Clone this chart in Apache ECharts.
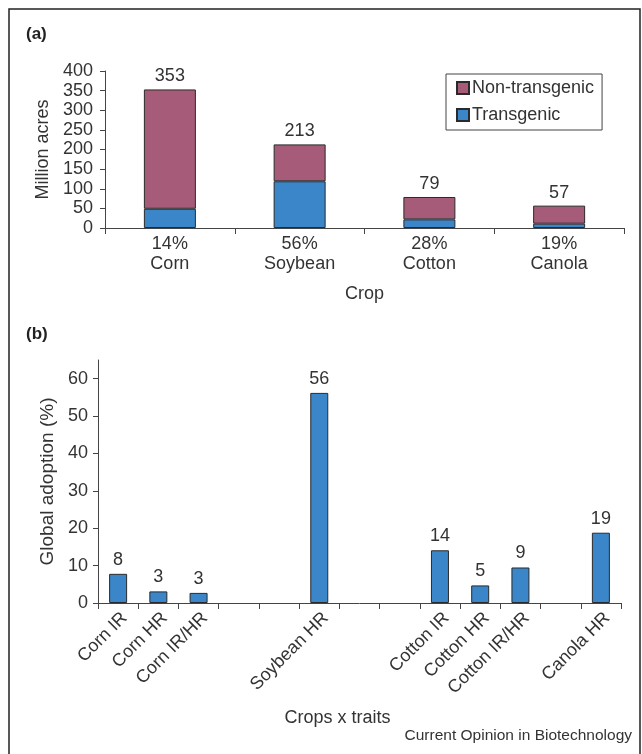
<!DOCTYPE html>
<html>
<head>
<meta charset="utf-8">
<script src="https://cdn.jsdelivr.net/npm/echarts@6/dist/echarts.min.js"></script>
<style>
html,body{margin:0;padding:0;background:#fff;}
#c{width:642px;height:754px;}
</style>
</head>
<body>
<div id="c"></div>
<script>
// Panel (a)
const crops = ['Corn', 'Soybean', 'Cotton', 'Canola'];
const adoptionPct = ['14%', '56%', '28%', '19%'];
const totals = [353, 213, 79, 57];
const transgenic = [49, 119, 22, 11];
const nonTransgenic = [304, 94, 57, 46];
const yTicksA = [0, 50, 100, 150, 200, 250, 300, 350, 400];

// Panel (b)
const traits = ['Corn IR', 'Corn HR', 'Corn IR/HR', '', '', 'Soybean HR', '', '', 'Cotton IR', 'Cotton HR', 'Cotton IR/HR', '', 'Canola HR'];
const adoption = [7.8, 3.1, 2.7, '-', '-', 56.2, '-', '-', 14.1, 4.7, 9.5, '-', 18.8];
const adoptionLabels = ['8', '3', '3', '', '', '56', '', '', '14', '5', '9', '', '19'];
const yTicksB = [0, 10, 20, 30, 40, 50, 60];

const FONT = 'Liberation Sans';
const TXT = '#333';
const AX = '#444';
const MAUVE = '#A65C78';
const BLUE = '#3A86C8';
const FS = 18;

const chart = echarts.init(document.getElementById('c'), null, {renderer: 'canvas'});

chart.setOption({
  backgroundColor: '#fff',
  textStyle: {fontFamily: FONT, color: TXT},
  animation: false,
  legend: {
    left: 446, top: 74,
    orient: 'vertical',
    data: ['Non-transgenic', 'Transgenic'],
    borderColor: '#444', borderWidth: 1,
    padding: [5, 8, 6, 10],
    itemGap: 9,
    itemWidth: 12, itemHeight: 12,
    icon: 'rect',
    textStyle: {fontFamily: FONT, fontSize: FS, color: TXT, padding: [0, 0, 0, -2]}
  },
  grid: [
    {left: 105, top: 71, right: 18, height: 157},
    {left: 98, top: 360, right: 21, height: 243}
  ],
  xAxis: [
    {
      type: 'category', gridIndex: 0, data: crops,
      axisLine: {lineStyle: {color: AX, width: 1}},
      axisTick: {show: true, alignWithLabel: false, length: 6, lineStyle: {color: AX, width: 1}},
      axisLabel: {
        margin: 6, fontSize: FS, color: TXT, lineHeight: 20, fontFamily: FONT,
        formatter: (v, i) => adoptionPct[i] + '\n' + v
      },
      name: 'Crop', nameLocation: 'middle', nameGap: 57,
      nameTextStyle: {fontSize: FS, color: TXT, fontFamily: FONT}
    },
    {
      type: 'category', gridIndex: 1, data: traits,
      axisLine: {lineStyle: {color: AX, width: 1}},
      axisTick: {show: true, length: 6, lineStyle: {color: AX, width: 1}, interval: 0},
      axisLabel: {
        rotate: 45, margin: 6, verticalAlign: 'top', fontSize: FS, color: TXT, fontFamily: FONT, interval: 0
      },
      name: 'Crops x traits', nameLocation: 'middle', nameGap: 106,
      nameTextStyle: {fontSize: FS, color: TXT, fontFamily: FONT, padding: [0, 44, 0, 0]}
    }
  ],
  yAxis: [
    {
      type: 'value', gridIndex: 0, min: 0, max: 400, interval: 50,
      splitLine: {show: false},
      axisLine: {show: true, lineStyle: {color: AX}},
      axisTick: {show: true, length: 5, lineStyle: {color: AX}},
      axisLabel: {fontSize: FS, color: TXT, margin: 12, fontFamily: FONT, lineHeight: 18},
      name: 'Million acres', nameLocation: 'middle', nameGap: 50, nameRotate: 90,
      nameTextStyle: {fontSize: FS, color: TXT, fontFamily: FONT}
    },
    {
      type: 'value', gridIndex: 1, min: 0, max: 65,
      splitLine: {show: false},
      axisLine: {show: true, lineStyle: {color: AX}},
      axisTick: {show: true, length: 5, lineStyle: {color: AX}, customValues: yTicksB},
      axisLabel: {fontSize: FS, color: TXT, margin: 10, fontFamily: FONT, customValues: yTicksB},
      name: 'Global adoption (%)', nameLocation: 'middle', nameGap: 38, nameRotate: 90,
      nameTextStyle: {fontSize: 19, color: TXT, fontFamily: FONT}
    }
  ],
  series: [
    {
      name: 'Transgenic', type: 'bar', stack: 'a', xAxisIndex: 0, yAxisIndex: 0,
      data: transgenic, barWidth: 52,
      itemStyle: {color: BLUE, borderColor: '#2a2a2a', borderWidth: 1}
    },
    {
      name: 'Non-transgenic', type: 'bar', stack: 'a', xAxisIndex: 0, yAxisIndex: 0,
      data: nonTransgenic, barWidth: 52,
      itemStyle: {color: MAUVE, borderColor: '#2a2a2a', borderWidth: 1},
      label: {
        show: true, position: 'top', distance: 4, fontSize: FS, color: TXT, fontFamily: FONT,
        formatter: p => String(totals[p.dataIndex])
      }
    },
    {
      name: 'Adoption', type: 'bar', xAxisIndex: 1, yAxisIndex: 1,
      data: adoption, barWidth: 18,
      itemStyle: {color: BLUE, borderColor: '#2a2a2a', borderWidth: 1},
      label: {
        show: true, position: 'top', distance: 5, fontSize: FS, color: TXT, fontFamily: FONT,
        formatter: p => adoptionLabels[p.dataIndex]
      }
    }
  ],
  graphic: [
    {type: 'polyline', shape: {points: [[9, 760], [9, 9], [640, 9], [640, 760]]},
     style: {stroke: '#222', lineWidth: 1.5, fill: null}, silent: true},
    {type: 'text', left: 26, top: 26, style: {text: '(a)', font: 'bold 17px "Liberation Sans"', fill: '#222'}},
    {type: 'text', left: 26, top: 326, style: {text: '(b)', font: 'bold 17px "Liberation Sans"', fill: '#222'}},
    {type: 'text', right: 10, top: 728, style: {text: 'Current Opinion in Biotechnology', font: '15.5px "Liberation Sans"', fill: TXT}}
  ]
});
</script>
</body>
</html>
